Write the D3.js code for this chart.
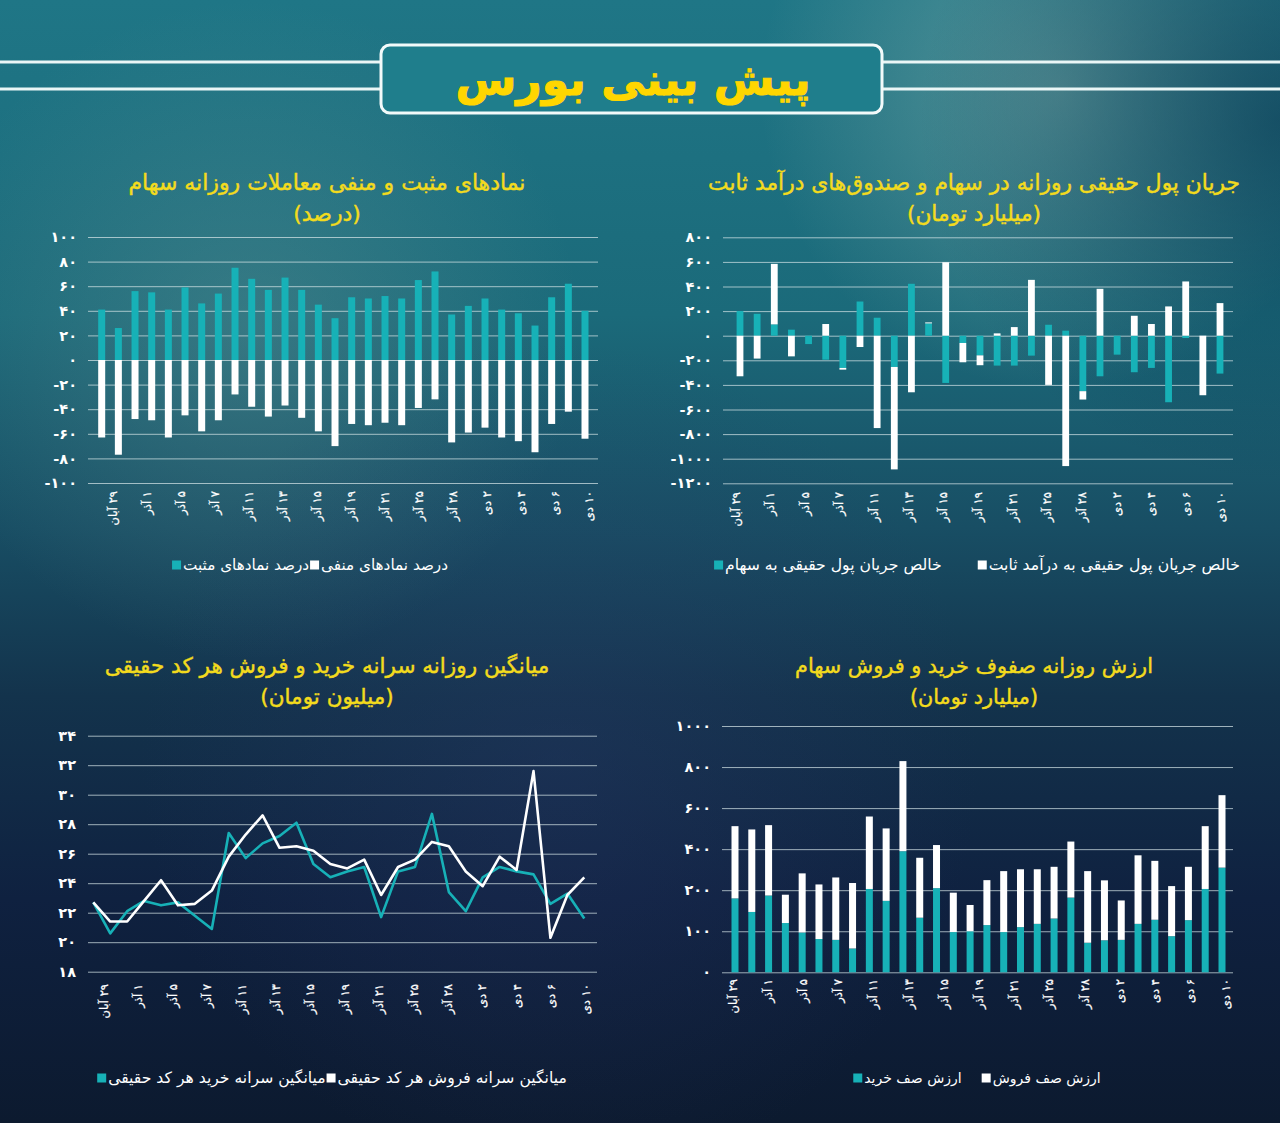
<!DOCTYPE html>
<html lang="fa">
<head>
<meta charset="utf-8">
<script src="https://cdn.jsdelivr.net/npm/d3@7"></script>
<style>
  html, body { margin: 0; padding: 0; background: #0d2236; }
  svg { display: block; }
  text { font-family: "DejaVu Sans", sans-serif; }
</style>
</head>
<body>
<svg id="chart"></svg>
<script>
// ─── Data ──────────────────────────────────────────────────────────────────
const DATE_LABELS = ["۲۹ آبان", "۱ آذر", "۵ آذر", "۷ آذر", "۱۱ آذر", "۱۳ آذر", "۱۵ آذر", "۱۹ آذر",
  "۲۱ آذر", "۲۵ آذر", "۲۸ آذر", "۲ دی", "۴ دی", "۶ دی", "۱۰ دی"];

// percent of positive / negative symbols (30 trading days)
const BREADTH_POS = [41, 26, 56, 55, 41, 59, 46, 54, 75, 66, 57, 67, 57, 45, 34, 51, 50, 52, 50, 65, 72, 37, 44, 50, 41, 38, 28, 51, 62, 40];
const BREADTH_NEG = [-63, -77, -48, -49, -63, -45, -58, -49, -28, -38, -46, -37, -47, -58, -70, -52, -53, -51, -53, -39, -32, -67, -59, -55, -63, -66, -75, -52, -42, -64];

// net retail money flow, billion toman (29 days)
const FLOW_STOCK = [200, 178, 92, 49, -68, -195, -262, 278, 146, -254, 422, 100, -384, -59, -160, -243, -243, -162, 89, 41, -451, -330, -154, -297, -262, -541, -19, 0, -308];
const FLOW_FIXED = [-330, -186, 492, -168, 0, 95, -14, -92, -751, -833, -460, 8, 597, -157, -80, 19, 70, 454, -400, -1060, -68, 381, 0, 162, 95, 238, 441, -484, 265];

// per-capita buy / sell per retail code, million toman
const PERCAP_BUY  = [22.7, 20.6, 22.1, 22.8, 22.5, 22.7, 21.8, 20.9, 27.4, 25.7, 26.7, 27.2, 28.1, 25.3, 24.4, 24.8, 25.1, 21.7, 24.8, 25.1, 28.7, 23.4, 22.1, 24.4, 25.1, 24.8, 24.6, 22.6, 23.3, 21.6];
const PERCAP_SELL = [22.7, 21.4, 21.4, 22.8, 24.2, 22.5, 22.6, 23.5, 25.8, 27.3, 28.6, 26.4, 26.5, 26.2, 25.3, 25.0, 25.6, 23.2, 25.1, 25.6, 26.8, 26.5, 24.8, 23.8, 25.8, 24.9, 31.6, 20.3, 23.2, 24.4];

// buy / sell queue value, billion toman
const QUEUE_BUY  = [180, 147, 187, 120, 97, 81, 79, 58, 206, 174, 390, 133, 210, 98, 100, 115, 98, 110, 118, 131, 182, 72, 78, 79, 118, 128, 88, 127, 206, 310];
const QUEUE_SELL = [332, 349, 330, 69, 185, 147, 183, 177, 353, 327, 439, 225, 210, 96, 64, 134, 195, 192, 184, 183, 255, 221, 170, 96, 252, 215, 132, 187, 306, 353];

const BREADTH_TICKS = d3.range(-100, 101, 20);
const FLOW_TICKS    = d3.range(-1200, 801, 200);
const PERCAP_TICKS  = d3.range(18, 35, 2);
const QUEUE_TICKS   = [0, 100, 200, 400, 600, 800, 1000];

// ─── Style ─────────────────────────────────────────────────────────────────
const W = 1280, H = 1123;
const TEAL = "#17b1b7";
const WHITE = "#ffffff";
const GRID = "rgba(214,228,232,0.72)";
const YELLOW = "#f3db1d";
const RLM = "\u200F";
const fa = v => String(v).replace(/\d/g, d => "۰۱۲۳۴۵۶۷۸۹"[+d]);

const svg = d3.select("#chart").attr("width", W).attr("height", H).attr("viewBox", `0 0 ${W} ${H}`);
const defs = svg.append("defs");

// ── Background ─────────────────────────────────────────────────────────────
const base = defs.append("linearGradient").attr("id", "bgBase")
  .attr("x1", 0).attr("y1", 0).attr("x2", 0).attr("y2", 1);
[[0, "#1f7686"], [0.28, "#1b6a7a"], [0.47, "#184e64"], [0.62, "#13334c"], [0.8, "#0f2140"], [1, "#0c1a2f"]]
  .forEach(([o, c]) => base.append("stop").attr("offset", o).attr("stop-color", c));

function glow(id, cx, cy, r, color, op) {
  const rg = defs.append("radialGradient").attr("id", id).attr("gradientUnits", "userSpaceOnUse")
    .attr("cx", cx).attr("cy", cy).attr("r", r);
  rg.append("stop").attr("offset", 0).attr("stop-color", color).attr("stop-opacity", op);
  rg.append("stop").attr("offset", 1).attr("stop-color", color).attr("stop-opacity", 0);
  svg.append("rect").attr("width", W).attr("height", H).attr("fill", `url(#${id})`);
}
svg.append("rect").attr("width", W).attr("height", H).attr("fill", "url(#bgBase)");
glow("g1", 1060, 90, 300, "#8fb3ad", 0.5);
glow("g2", 250, 330, 330, "#6a9797", 0.35);
glow("g3", 1280, 120, 360, "#07344f", 0.6);
glow("g4", 560, 760, 420, "#2a3868", 0.35);

// ─── Helpers ───────────────────────────────────────────────────────────────
function fitWidth(sel, target) {
  const w = sel.node().getComputedTextLength();
  const fs = parseFloat(sel.attr("font-size")) * target / w;
  sel.attr("font-size", fs.toFixed(2));
  return fs;
}

function bandFromCenters(n, c0, c1, barW) {
  const step = (c1 - c0) / (n - 1);
  const p = 1 - barW / step;
  return d3.scaleBand().domain(d3.range(n)).range([c0 - step / 2, c1 + step / 2])
    .paddingInner(p).paddingOuter(p / 2);
}

function panelTitle(cx, y1, line1, line2, width1) {
  const t = svg.append("text").attr("x", cx).attr("y", y1).attr("text-anchor", "middle")
    .attr("font-size", 20).attr("fill", YELLOW)
    .attr("stroke", YELLOW).attr("stroke-width", 0.45).text(line1);
  const fs = fitWidth(t, width1);
  svg.append("text").attr("x", cx).attr("y", y1 + 31).attr("text-anchor", "middle")
    .attr("font-size", fs.toFixed(2)).attr("fill", YELLOW)
    .attr("stroke", YELLOW).attr("stroke-width", 0.45).text(line2);
}

function yAxis(y, ticks, x0, x1, labelRight) {
  const g = svg.append("g").attr("transform", `translate(${x0},0)`)
    .call(d3.axisLeft(y).tickValues(ticks).tickSizeInner(-(x1 - x0)).tickSizeOuter(0)
      .tickPadding(x0 - labelRight).tickFormat(fa));
  g.select(".domain").remove();
  g.selectAll(".tick line").attr("stroke", GRID).attr("stroke-width", 1);
  g.selectAll(".tick text").attr("fill", WHITE).attr("font-size", 14.5).attr("font-weight", "bold")
    .attr("font-family", "DejaVu Sans, sans-serif");
}

function xLabels(from, to, yTop) {
  const xp = d3.scalePoint().domain(DATE_LABELS).range([from, to]);
  const g = svg.append("g").attr("transform", `translate(0,${yTop})`)
    .call(d3.axisBottom(xp).tickSize(0).tickFormat(d => RLM + d));
  g.select(".domain").remove();
  g.selectAll(".tick text")
    .attr("transform", "rotate(-90)").attr("x", 0).attr("y", 0).attr("dy", "0.35em")
    .attr("text-anchor", "end").attr("fill", WHITE).attr("font-size", 11.5)
    .attr("stroke", WHITE).attr("stroke-width", 0.25)
    .attr("font-family", "DejaVu Sans, sans-serif");
}

// items are listed right-to-left; marker sits left of its label
function legend(cx, cy, items, itemGap, targetW) {
  const SZ = 9, GAP = 2;
  const g = svg.append("g");
  const texts = items.map(it => g.append("text").attr("y", cy).attr("dy", "0.35em")
    .attr("text-anchor", "end").attr("font-size", 14).attr("fill", WHITE).text(it.label));
  const fixed = items.length * (SZ + GAP) + itemGap * (items.length - 1);
  if (targetW) {
    const raw = d3.sum(texts, t => t.node().getComputedTextLength());
    const fs = 14 * (targetW - fixed) / raw;
    texts.forEach(t => t.attr("font-size", fs.toFixed(2)));
  }
  const widths = texts.map(t => t.node().getComputedTextLength());
  let right = cx + (d3.sum(widths) + fixed) / 2;
  items.forEach((it, i) => {
    texts[i].attr("x", right);
    const mx = right - widths[i] - GAP - SZ;
    g.append("rect").attr("x", mx).attr("y", cy - SZ / 2).attr("width", SZ).attr("height", SZ)
      .attr("fill", it.color);
    right = mx - itemGap;
  });
}

function stackedBars(rows, keys, colors, x, y, offset) {
  const series = d3.stack().keys(keys).offset(offset)(rows);
  svg.append("g").selectAll("g").data(series).join("g")
    .attr("fill", d => colors[d.key])
    .selectAll("rect").data(d => d).join("rect")
      .attr("x", (d, i) => x(i))
      .attr("width", x.bandwidth())
      .attr("y", d => y(Math.max(d[0], d[1])))
      .attr("height", d => Math.abs(y(d[0]) - y(d[1])));
}

// ── Header ─────────────────────────────────────────────────────────────────
const header = svg.append("g");
[62, 89].forEach(y => {
  header.append("line").attr("x1", 0).attr("x2", 381).attr("y1", y).attr("y2", y)
    .attr("stroke", "#eaf6f6").attr("stroke-width", 3);
  header.append("line").attr("x1", 882).attr("x2", W).attr("y1", y).attr("y2", y)
    .attr("stroke", "#eaf6f6").attr("stroke-width", 3);
});
header.append("rect").attr("x", 381).attr("y", 45).attr("width", 501).attr("height", 68).attr("rx", 9)
  .attr("fill", "#1f7e8c").attr("stroke", "#f2fafa").attr("stroke-width", 3);
const mainTitle = header.append("text").attr("x", 633).attr("y", 95).attr("text-anchor", "middle")
  .attr("font-size", 44).attr("font-weight", "bold").attr("fill", "#ffd600")
  .attr("stroke", "#ffd600").attr("stroke-width", 1).text("پیش بینی بورس");
fitWidth(mainTitle, 355);

// ─── Top left: positive / negative symbols ────────────────────────────────
{
  const y = d3.scaleLinear().domain([-100, 100]).range([483, 237]);
  const x = bandFromCenters(BREADTH_POS.length, 101.7, 585, 7);
  panelTitle(327, 190, "نمادهای مثبت و منفی معاملات روزانه سهام", "(درصد)", 397);
  yAxis(y, BREADTH_TICKS, 88, 598, 77);
  const rows = BREADTH_POS.map((v, i) => ({ pos: v, neg: BREADTH_NEG[i] }));
  stackedBars(rows, ["pos", "neg"], { pos: TEAL, neg: WHITE }, x, y, d3.stackOffsetDiverging);
  xLabels(112, 588, 491);
  legend(310, 565, [
    { label: "درصد نمادهای منفی", color: WHITE },
    { label: "درصد نمادهای مثبت", color: TEAL },
  ], 1, 276);
}

// ─── Top right: real money flow ───────────────────────────────────────────
{
  const y = d3.scaleLinear().domain([-1200, 800]).range([483.3, 237.3]);
  const x = bandFromCenters(FLOW_STOCK.length, 740, 1220, 6.8);
  panelTitle(974, 190, "جریان پول حقیقی روزانه در سهام و صندوق‌های درآمد ثابت", "(میلیارد تومان)", 532);
  yAxis(y, FLOW_TICKS, 723, 1233, 712);
  const rows = FLOW_STOCK.map((v, i) => ({ stock: v, fixed: FLOW_FIXED[i] }));
  stackedBars(rows, ["stock", "fixed"], { stock: TEAL, fixed: WHITE }, x, y, d3.stackOffsetDiverging);
  xLabels(735, 1220, 492);
  legend(977, 565, [
    { label: "خالص جریان پول حقیقی به درآمد ثابت", color: WHITE },
    { label: "خالص جریان پول حقیقی به سهام", color: TEAL },
  ], 36, 526);
}

// ─── Bottom left: per-capita buy / sell ───────────────────────────────────
{
  const y = d3.scaleLinear().domain([18, 34]).range([971.7, 735.7]);
  const x = d3.scalePoint().domain(d3.range(PERCAP_BUY.length)).range([93.3, 584.3]);
  panelTitle(327, 673, "میانگین روزانه سرانه خرید و فروش هر کد حقیقی", "(میلیون تومان)", 445);
  yAxis(y, PERCAP_TICKS, 88, 597, 76);
  const line = d3.line().x((d, i) => x(i)).y(d => y(d));
  svg.append("path").datum(PERCAP_BUY).attr("d", line).attr("fill", "none")
    .attr("stroke", TEAL).attr("stroke-width", 2.6).attr("stroke-linejoin", "round");
  svg.append("path").datum(PERCAP_SELL).attr("d", line).attr("fill", "none")
    .attr("stroke", WHITE).attr("stroke-width", 2.6).attr("stroke-linejoin", "round");
  xLabels(103.5, 585, 984);
  legend(332, 1078, [
    { label: "میانگین سرانه فروش هر کد حقیقی", color: WHITE },
    { label: "میانگین سرانه خرید هر کد حقیقی", color: TEAL },
  ], 1, 470);
}

// ─── Bottom right: buy / sell queues ──────────────────────────────────────
{
  const step = (972.3 - 726) / (QUEUE_TICKS.length - 1);
  const y = d3.scaleLinear().domain(QUEUE_TICKS).range(QUEUE_TICKS.map((_, i) => 972.3 - i * step));
  const x = bandFromCenters(QUEUE_BUY.length, 735, 1222, 7);
  panelTitle(974, 673, "ارزش روزانه صفوف خرید و فروش سهام", "(میلیارد تومان)", 358);
  yAxis(y, QUEUE_TICKS, 722, 1233, 711);
  const rows = QUEUE_BUY.map((v, i) => ({ buy: v, sell: QUEUE_SELL[i] }));
  stackedBars(rows, ["buy", "sell"], { buy: TEAL, sell: WHITE }, x, y, d3.stackOffsetNone);
  xLabels(732, 1225, 979);
  legend(977, 1078, [
    { label: "ارزش صف فروش", color: WHITE },
    { label: "ارزش صف خرید", color: TEAL },
  ], 20, null);
}
</script>
</body>
</html>
